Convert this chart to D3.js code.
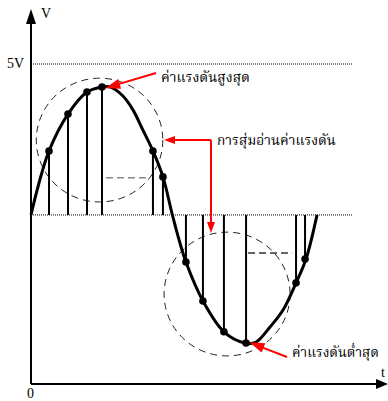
<!DOCTYPE html>
<html>
<head>
<meta charset="utf-8">
<script src="https://cdn.jsdelivr.net/npm/d3@7"></script>
<style>
  html, body { margin: 0; padding: 0; background: #fff; }
  svg { display: block; }
</style>
</head>
<body>
<svg id="chart" width="388" height="401"></svg>
<script>
// ---- data (t in ms, v in volts) ----
const curveT = [0, 0.5, 1.26, 2.59, 3.92, 4.97, 5.53, 6.44, 7.14, 7.84, 8.54, 9.24, 9.9, 10.43, 10.85, 12.04, 13.51, 14.99, 15.76, 16.74, 17.65, 18.56, 19.26, 20.03];
const curveV = [0, 0.95, 2.12, 3.34, 4.07, 4.24, 4.24, 3.94, 3.48, 2.81, 2.12, 1.26, 0, -0.93, -1.56, -2.85, -3.87, -4.24, -4.21, -3.71, -3.15, -2.25, -1.46, 0];
const sampleT = [1.26, 2.59, 3.92, 4.97, 8.54, 9.24, 10.85, 12.04, 13.51, 15.06, 18.56, 19.19];
const sampleV = [2.12, 3.34, 4.07, 4.24, 2.12, 1.26, -1.56, -2.85, -3.87, -4.24, -2.25, -1.46];
const refLevels = [5, 0];
const refLabels = ["5V", ""];
const axisLabels = ["V", "t", "0"];
const annoTexts = ["ค่าแรงดันสูงสุด", "การสุ่มอ่านค่าแรงดัน", "ค่าแรงดันต่ำสุด"];
// dashed circles: centre (t, v), radii (t, v)
const circleT = [4.80, 13.73];
const circleV = [2.48, -2.62];
const circleRT = [4.43, 4.41];
const circleRV = [2.05, 2.05];
// dashed helper lines (t0, t1, v)
const helperT0 = [5.25, 15.2];
const helperT1 = [8.2, 18.3];
const helperV = [1.23, -1.26];

// ---- scales ----
const x = d3.scaleLinear().domain([0, 25]).range([31, 388]);
const y = d3.scaleLinear().domain([-5.6, 5]).range([384, 64]);

const svg = d3.select("#chart");

// dotted reference lines
svg.selectAll("line.ref").data(refLevels).enter().append("line")
  .attr("x1", x(0)).attr("x2", 352)
  .attr("y1", d => y(d)).attr("y2", d => y(d))
  .attr("stroke", "#000").attr("stroke-width", 1).attr("stroke-dasharray", "1,1");

// dashed circles
svg.selectAll("ellipse.c").data(circleT).enter().append("ellipse")
  .attr("cx", (d, i) => x(d)).attr("cy", (d, i) => y(circleV[i]))
  .attr("rx", (d, i) => x(circleRT[i]) - x(0))
  .attr("ry", (d, i) => y(0) - y(circleRV[i]))
  .attr("fill", "none").attr("stroke", "#222").attr("stroke-width", 1)
  .attr("stroke-dasharray", "7,5");

// dashed helper lines
svg.selectAll("line.h").data(helperT0).enter().append("line")
  .attr("x1", d => x(d)).attr("x2", (d, i) => x(helperT1[i]))
  .attr("y1", (d, i) => y(helperV[i])).attr("y2", (d, i) => y(helperV[i]))
  .attr("stroke", (d, i) => i === 0 ? "#888" : "#333").attr("stroke-width", 1.5)
  .attr("stroke-dasharray", "7,4");

// sample stems
svg.selectAll("line.s").data(sampleT).enter().append("line")
  .attr("x1", d => x(d)).attr("x2", d => x(d))
  .attr("y1", y(0)).attr("y2", (d, i) => y(sampleV[i]))
  .attr("stroke", "#000").attr("stroke-width", 2);

// curve
const pts = curveT.map((t, i) => [t, curveV[i]]);
svg.append("path")
  .attr("d", d3.line().x(d => x(d[0])).y(d => y(d[1])).curve(d3.curveCatmullRom.alpha(0.5))(pts))
  .attr("fill", "none").attr("stroke", "#000").attr("stroke-width", 3);

// dots
svg.selectAll("circle.d").data(sampleT).enter().append("circle")
  .attr("cx", d => x(d)).attr("cy", (d, i) => y(sampleV[i]))
  .attr("r", 3.8).attr("fill", "#000");

// axes
svg.append("line").attr("x1", x(0)).attr("x2", x(0)).attr("y1", y(-5.6)).attr("y2", 22)
  .attr("stroke", "#000").attr("stroke-width", 2);
svg.append("path").attr("d", `M${x(0)},9 L${x(0) - 5},24 L${x(0) + 5},24 Z`).attr("fill", "#000");
svg.append("line").attr("x1", x(0)).attr("x2", 378).attr("y1", y(-5.6)).attr("y2", y(-5.6))
  .attr("stroke", "#000").attr("stroke-width", 2);
svg.append("path").attr("d", `M${x(25)},${y(-5.6)} L376,${y(-5.6) - 5} L376,${y(-5.6) + 5} Z`).attr("fill", "#000");

const serif = "'Liberation Serif', 'DejaVu Serif', serif";
svg.append("text").attr("x", 41).attr("y", 18).text(axisLabels[0])
  .attr("font-family", serif).attr("font-size", 14);
svg.append("text").attr("x", 381).attr("y", 377).text(axisLabels[1])
  .attr("font-family", serif).attr("font-size", 14);
svg.append("text").attr("x", 27).attr("y", 398).text(axisLabels[2])
  .attr("font-family", serif).attr("font-size", 14);
svg.append("text").attr("x", 7).attr("y", 68).text(refLabels[0])
  .attr("font-family", serif).attr("font-size", 14);

// red arrows
function head(tip, from, len, hw) {
  const dx = tip[0] - from[0], dy = tip[1] - from[1];
  const L = Math.hypot(dx, dy), ux = dx / L, uy = dy / L;
  const bx = tip[0] - ux * len, by = tip[1] - uy * len;
  return `M${tip[0]},${tip[1]} L${bx - uy * hw},${by + ux * hw} L${bx + uy * hw},${by - ux * hw} Z`;
}
const red = "#ff0000";
// peak arrow
const pTip = [x(5.2), y(4.2)];
const pFrom = [156, 73];
svg.append("line").attr("x1", pFrom[0]).attr("y1", pFrom[1]).attr("x2", pTip[0] + 8).attr("y2", pTip[1] - 2.5)
  .attr("stroke", red).attr("stroke-width", 2);
svg.append("path").attr("d", head(pTip, pFrom, 15, 5)).attr("fill", red);
// sampling arrows
const hTip = [164, 140];
svg.append("path").attr("d", `M211,${hTip[1]} L172,${hTip[1]} M211,${hTip[1]} L211,224`)
  .attr("fill", "none").attr("stroke", red).attr("stroke-width", 2);
svg.append("path").attr("d", head(hTip, [211, 140], 11, 4)).attr("fill", red);
svg.append("path").attr("d", head([211, 233], [211, 140], 11, 4)).attr("fill", red);
// trough arrow
const tTip = [x(15.3), y(-4.22)];
const tFrom = [287, 357];
svg.append("line").attr("x1", tFrom[0]).attr("y1", tFrom[1]).attr("x2", tTip[0] + 10).attr("y2", tTip[1] + 4)
  .attr("stroke", red).attr("stroke-width", 2);
svg.append("path").attr("d", head(tTip, tFrom, 15, 5)).attr("fill", red);

// Thai labels: font size chosen so the natural width matches the target width
const thai = "'Noto Serif Thai', 'Noto Sans Thai', 'Noto Sans', sans-serif";
const annoX = [161, 217, 292];
const annoY = [82, 145, 357];
const annoW = [89, 119, 87];
svg.selectAll("text.a").data(annoTexts).enter().append("text")
  .attr("x", (d, i) => annoX[i]).attr("y", (d, i) => annoY[i])
  .attr("font-family", thai).attr("font-size", 16).attr("fill", "#000")
  .text(d => d)
  .each(function (d, i) {
    const w = this.getComputedTextLength();
    if (w > 0) d3.select(this).attr("font-size", Math.min(17, 16 * annoW[i] / w));
  });
</script>
</body>
</html>
